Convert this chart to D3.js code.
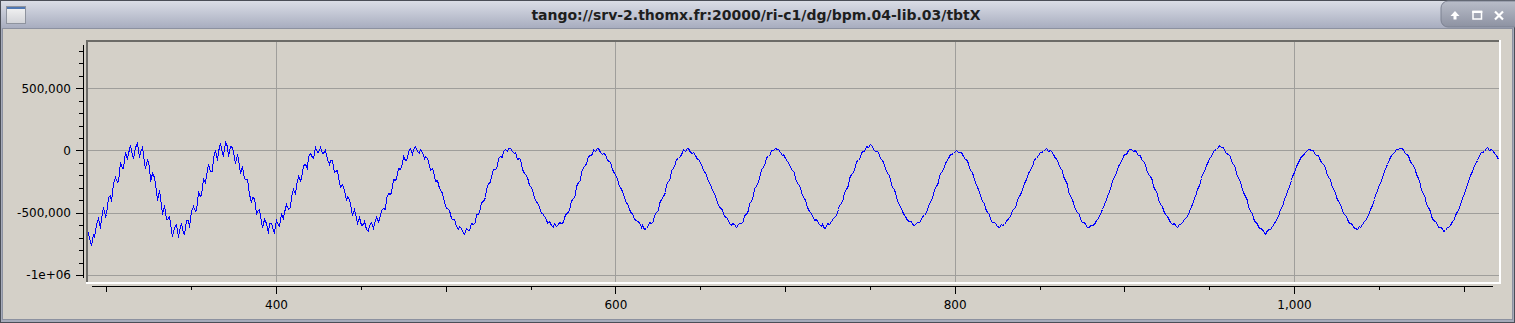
<!DOCTYPE html>
<html>
<head>
<meta charset="utf-8">
<script src="https://cdn.jsdelivr.net/npm/d3@7"></script>
<style>
  body { margin: 0; background: #d4d0c8; overflow: hidden; }
  svg { display: block; font-family: "DejaVu Sans", sans-serif; }
</style>
</head>
<body>
<div id="chart"></div>
<script>
const windowTitle = "tango://srv-2.thomx.fr:20000/ri-c1/dg/bpm.04-lib.03/tbtX";

// turn-by-turn X position, one value per turn, in thousands
const firstTurn = 289;
const tbtX = [
  -655, -705, -755, -673, -693, -590, -540, -624, -540, -455, -524,                   // 289-299
  -510, -372, -360, -404, -265, -216, -253, -249, -96, -140, -143, -14, -68, -17, 48, -36, -60,
  30, 59, -55, -11, 27, -95, -141, -69, -127, -246, -183, -211, -327, -400, -321, -437, -507, -441, -551, -548, -525, -641, -690, -615, -590,
  -698, -642, -583, -666, -670, -558, -559, -611, -489, -445, -484, -479, -330, -364, -356, -224, -259, -193, -111, -166, -165, -54, 0, -80, -7, 60, -23, -35,
  66, 34, -43, 33, 29, -54, -103, -26, -120, -178, -124, -224, -233, -227, -346, -410, -370, -378, -503, -486, -466, -578, -617, -548, -585, -666, -586,
  -585, -636, -651, -560, -598, -603, -514, -544, -496, -433, -468, -457, -363, -308, -348, -274, -201, -237, -218, -119, -107, -138, -46, -17, -53, -61, 30, -15,
  -10, 28, -24, -13, 6, -69, -106, -73, -77, -170, -163, -158, -251, -296, -267, -314, -398, -369, -392, -469, -516, -469, -539, -580, -536, -599, -591, -569, -633,
  -649, -600, -577, -624, -580, -533, -568, -554, -474, -459, -472, -385, -345, -351, -333, -233, -240, -222, -137, -146, -101, -47, -75, -72, -8, 22, -25, 12,
  33, -6, -19, 9, -13, -60, -42, -61, -113, -153, -140, -200, -244, -241, -304, -328, -345, -414, -458, -458, -477, -544, -549, -551, -607, -631, -607, -625, -661,
  -672, -622, -639, -637, -583, -587, -573, -514, -507, -463, -412, -405, -376, -310, -261, -256, -201, -148, -146, -121, -62, -46, -52, -4, 12, -5,
  22, 20, -6, -24, -10, -66, -58, -66, -146, -183, -191, -215, -278, -296, -315, -375, -412, -417, -453, -503, -502, -526, -553, -585, -570, -600, -611, -583,
  -605, -594, -574, -585, -575, -532, -498, -494, -447, -397, -386, -351, -287, -253, -235, -172, -133, -120, -97, -41, -39, -29, 9, -3,
  18, 18, -11, -27, -19, -28, -74, -83, -96, -148, -183, -190, -229, -283, -294, -325, -377, -418, -421, -469, -505, -506, -548, -560, -565, -578, -617, -602,
  -630, -619, -599, -574, -580, -565, -516, -495, -481, -425, -387, -366, -335, -269, -248, -217, -159, -142, -103, -65, -60, -47, -11, 8, -8,
  20, 17, -10, -24, -13, -34, -71, -70, -90, -133, -169, -172, -219, -259, -268, -318, -344, -365, -416, -453, -462, -481, -528, -537, -542, -580, -597, -583, -594,
  -613, -589, -579, -580, -568, -519, -507, -481, -425, -403, -356, -305, -284, -249, -191, -146, -133, -90, -50, -47, -32, 2, 6,
  18, 10, 8, -16, -34, -27, -59, -87, -91, -133, -155, -175, -224, -263, -279, -305, -359, -381, -401, -450, -482, -490, -517, -555, -554, -567, -594, -609, -591,
  -625, -611, -585, -590, -569, -542, -537, -517, -472, -435, -424, -378, -331, -313, -280, -224, -192, -173, -122, -88, -75, -55, -9, -6, 3, 33, 24,
  52, 39, 15, -1, -2, -15, -57, -73, -93, -143, -180, -198, -240, -291, -310, -345, -394, -434, -445, -488, -520, -525, -557, -568, -570, -594,
  -600, -584, -572, -578, -553, -524, -516, -493, -447, -419, -398, -346, -308, -283, -252, -197, -175, -148, -102, -88, -59, -31, -30, -24, -3,
  4, -15, -14, -16, -48, -71, -79, -110, -153, -170, -202, -251, -293, -311, -360, -402, -420, -465, -490, -509, -548, -573, -575, -581, -606,
  -612, -588, -598, -592, -563, -550, -544, -505, -477, -461, -436, -386, -365, -336, -286, -264, -225, -184, -168, -143, -101, -70, -64, -36, -10, -13, -7, 15,
  20, -2, 6, -4, -32, -57, -64, -103, -140, -158, -205, -238, -268, -322, -365, -389, -419, -470, -493, -511, -553, -576, -576, -592, -612,
  -618, -596, -599, -592, -558, -549, -528, -487, -466, -428, -386, -362, -328, -277, -235, -212, -169, -128, -110, -86, -47, -30, -25, 0, 10,
  12, -5, 6, -15, -33, -36, -68, -88, -108, -151, -186, -206, -237, -287, -314, -341, -390, -426, -443, -475, -514, -525, -544, -572, -590, -583, -600,
  -614, -591, -592, -576, -553, -545, -523, -484, -448, -427, -383, -338, -312, -275, -223, -189, -162, -115, -82, -63, -41, -6, 1, 9, 30,
  40, 25, 24, 1, -19, -26, -46, -86, -109, -135, -182, -221, -246, -289, -337, -363, -400, -446, -485, -502, -542, -573, -584, -611, -623, -628, -647,
  -668, -640, -629, -630, -607, -579, -568, -543, -499, -469, -443, -393, -353, -323, -288, -234, -207, -175, -128, -106, -75, -44, -36, -24, -1, 10,
  14, 4, 5, -17, -33, -36, -61, -94, -107, -134, -173, -210, -228, -272, -311, -333, -376, -405, -432, -474, -506, -521, -540, -573, -583, -590, -612, -620,
  -628, -610, -613, -588, -570, -558, -536, -493, -471, -440, -391, -361, -318, -272, -245, -210, -163, -124, -105, -70, -37, -29, -14, 11, 14,
  22, 18, 12, -9, -29, -34, -68, -99, -117, -160, -191, -222, -273, -316, -343, -378, -428, -456, -483, -527, -556, -567, -591, -617, -616, -622,
  -645, -635, -613, -611, -599, -566, -551, -520, -483, -461, -430, -382, -339, -314, -268, -222, -198, -165, -118, -91, -74, -37, -16, -9, -1, 21,
  24, 7, 13, -8, -20, -34, -70                                                          // 1114-1120
];

const xDomain = [289.2, 1120.8];
const yDomain = [-1056000, 871000];
const xMajorTicks = [400, 600, 800, 1000];
const xMajorLabels = ["400", "600", "800", "1,000"];
const xMediumTicks = [300, 500, 700, 900, 1100];
const xMinorTicks = [350, 450, 550, 650, 750, 850, 950, 1050];
const yMajorTicks = [-1000000, -500000, 0, 500000];
const yMajorLabels = ["-1e+06", "-500,000", "0", "500,000"];
const yMinorTicks = [-900000, -800000, -700000, -600000, -400000, -300000, -200000, -100000,
                     100000, 200000, 300000, 400000, 600000, 700000, 800000];

const W = 1515, H = 323;
const canvas = { left: 88, top: 42, right: 1499, bottom: 282 };

const svg = d3.select("#chart").append("svg").attr("width", W).attr("height", H);
const defs = svg.append("defs");

let addGradient = (id, top, bottom) => {
  let g = defs.append("linearGradient").attr("id", id)
              .attr("x1", 0).attr("y1", 0).attr("x2", 0).attr("y2", 1);
  g.append("stop").attr("offset", "0%").attr("stop-color", top);
  g.append("stop").attr("offset", "100%").attr("stop-color", bottom);
};
addGradient("titleGrad", "#dadde6", "#a8adbf");
addGradient("btnGrad", "#b9bdc9", "#8d92a2");
addGradient("iconGrad", "#f4f4f4", "#d2d3d8");

// window decoration
svg.append("rect").attr("width", W).attr("height", H).attr("fill", "#a6abba");
svg.append("rect").attr("x", 1).attr("y", 1).attr("width", W - 2).attr("height", 27)
   .attr("fill", "url(#titleGrad)");
svg.append("rect").attr("x", 0.5).attr("y", 0.5).attr("width", W - 1).attr("height", H - 1)
   .attr("fill", "none").attr("stroke", "#4a4e57");
svg.append("rect").attr("x", 3).attr("y", 29).attr("width", W - 6).attr("height", 290)
   .attr("fill", "#d4d0c8");
svg.append("rect").attr("x", 2.5).attr("y", 28.5).attr("width", W - 5).attr("height", 291)
   .attr("fill", "none").attr("stroke", "#8c91a0");

// window icon, top left
svg.append("rect").attr("x", 6.5).attr("y", 6.5).attr("width", 19).attr("height", 17)
   .attr("fill", "url(#iconGrad)").attr("stroke", "#8e939e");
svg.append("rect").attr("x", 7).attr("y", 7).attr("width", 18).attr("height", 2).attr("fill", "#4f78b4");

svg.append("text").attr("x", 756).attr("y", 20).attr("text-anchor", "middle")
   .attr("font-size", 14).attr("font-weight", "bold").attr("fill", "#1e1e1e")
   .text(windowTitle);

// buttons, top right
let buttons = svg.append("g");
buttons.append("rect").attr("x", 1441).attr("y", 1).attr("width", 90).attr("height", 26).attr("rx", 7)
       .attr("fill", "url(#btnGrad)").attr("stroke", "#7d8292");
buttons.append("path").attr("d", "M1450.5,16 L1455,11 L1459.5,16 Z").attr("fill", "#fff");
buttons.append("rect").attr("x", 1453.5).attr("y", 15).attr("width", 3).attr("height", 4.5).attr("fill", "#fff");
buttons.append("rect").attr("x", 1473).attr("y", 11.5).attr("width", 8.5).attr("height", 7.5)
       .attr("fill", "none").attr("stroke", "#fff").attr("stroke-width", 1.5);
buttons.append("rect").attr("x", 1472.3).attr("y", 10.8).attr("width", 10).attr("height", 2.2).attr("fill", "#fff");
buttons.append("path").attr("d", "M1495,11.5 L1503,19.5 M1503,11.5 L1495,19.5")
       .attr("stroke", "#fff").attr("stroke-width", 2.2);

// scales
const x = d3.scaleLinear().domain(xDomain).range([canvas.left, canvas.right]);
const y = d3.scaleLinear().domain(yDomain).range([canvas.bottom, canvas.top]);

// plot canvas with sunken frame
svg.append("rect").attr("x", 86).attr("y", 40).attr("width", 1415).attr("height", 2).attr("fill", "#6c6b67");
svg.append("rect").attr("x", 86).attr("y", 40).attr("width", 2).attr("height", 244).attr("fill", "#6c6b67");
svg.append("rect").attr("x", 86).attr("y", 282).attr("width", 1415).attr("height", 2).attr("fill", "#ffffff");
svg.append("rect").attr("x", 1499).attr("y", 40).attr("width", 2).attr("height", 244).attr("fill", "#ffffff");

defs.append("clipPath").attr("id", "canvasClip").append("rect")
    .attr("x", canvas.left).attr("y", canvas.top)
    .attr("width", canvas.right - canvas.left).attr("height", canvas.bottom - canvas.top);

let plot = svg.append("g").attr("clip-path", "url(#canvasClip)");

// grid on major ticks
plot.selectAll(".hgrid").data(yMajorTicks).enter().append("line")
    .attr("class", "hgrid")
    .attr("x1", canvas.left).attr("x2", canvas.right)
    .attr("y1", (v) => Math.round(y(v)) + 0.5).attr("y2", (v) => Math.round(y(v)) + 0.5)
    .attr("stroke", "#9f9e9b").attr("shape-rendering", "crispEdges");
plot.selectAll(".vgrid").data(xMajorTicks).enter().append("line")
    .attr("class", "vgrid")
    .attr("y1", canvas.top).attr("y2", canvas.bottom)
    .attr("x1", (v) => Math.round(x(v)) + 0.5).attr("x2", (v) => Math.round(x(v)) + 0.5)
    .attr("stroke", "#9f9e9b").attr("shape-rendering", "crispEdges");

// the curve
let curve = d3.line()
  .x((d, i) => Math.round(x(firstTurn + i)) + 0.5)
  .y((d) => Math.round(y(d * 1000)) + 0.5);
plot.append("path").datum(tbtX)
    .attr("d", curve)
    .attr("fill", "none").attr("stroke", "#0000ff").attr("stroke-width", 1)
    .attr("shape-rendering", "crispEdges");

// axes
let styleAxis = (g) => {
  g.selectAll("line").attr("stroke", "#000").attr("shape-rendering", "crispEdges");
  g.selectAll("text").attr("fill", "#000").attr("font-size", 12)
   .attr("font-family", "'DejaVu Sans', sans-serif");
};

let yAxisG = svg.append("g").attr("transform", "translate(83,0)");
yAxisG.append("g")
  .call(d3.axisLeft(y).tickValues(yMajorTicks).tickSize(7).tickPadding(5)
          .tickFormat((v, i) => yMajorLabels[i]))
  .call((g) => g.select(".domain").remove())
  .call(styleAxis);
yAxisG.append("g")
  .call(d3.axisLeft(y).tickValues(yMinorTicks).tickSize(4).tickFormat(""))
  .call((g) => g.select(".domain").remove())
  .call(styleAxis);
yAxisG.append("line").attr("x1", 0.5).attr("x2", 0.5).attr("y1", 45).attr("y2", 278)
  .attr("stroke", "#000").attr("shape-rendering", "crispEdges");

let xAxisG = svg.append("g").attr("transform", "translate(0,286)");
xAxisG.append("g")
  .call(d3.axisBottom(x).tickValues(xMajorTicks).tickSize(8).tickPadding(6)
          .tickFormat((v, i) => xMajorLabels[i]))
  .call((g) => g.select(".domain").remove())
  .call(styleAxis);
xAxisG.append("g")
  .call(d3.axisBottom(x).tickValues(xMediumTicks).tickSize(6).tickFormat(""))
  .call((g) => g.select(".domain").remove())
  .call(styleAxis);
xAxisG.append("g")
  .call(d3.axisBottom(x).tickValues(xMinorTicks).tickSize(4).tickFormat(""))
  .call((g) => g.select(".domain").remove())
  .call(styleAxis);
xAxisG.append("line").attr("x1", 92).attr("x2", 1493).attr("y1", 0.5).attr("y2", 0.5)
  .attr("stroke", "#000").attr("shape-rendering", "crispEdges");
</script>
</body>
</html>
